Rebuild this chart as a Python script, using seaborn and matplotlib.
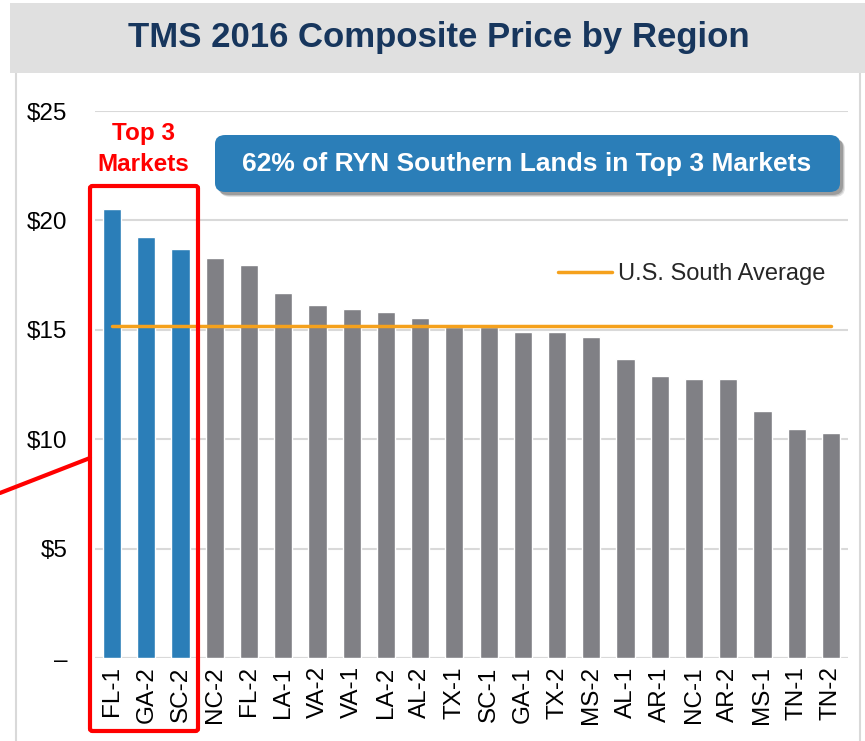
import matplotlib
matplotlib.use("Agg")
import matplotlib.pyplot as plt
from matplotlib.patches import Rectangle, FancyBboxPatch
from matplotlib.lines import Line2D
import seaborn as sns
import pandas as pd

# TMS 2016 composite stumpage price by region ($/ton)
regions = ["FL-1", "GA-2", "SC-2", "NC-2", "FL-2", "LA-1", "VA-2", "VA-1",
           "LA-2", "AL-2", "TX-1", "SC-1", "GA-1", "TX-2", "MS-2", "AL-1",
           "AR-1", "NC-1", "AR-2", "MS-1", "TN-1", "TN-2"]
prices = [20.52, 19.26, 18.69, 18.28, 17.98, 16.68, 16.13, 15.95, 15.81,
          15.54, 15.12, 15.12, 14.90, 14.90, 14.67, 13.67, 12.89, 12.75,
          12.75, 11.29, 10.47, 10.28]
top3 = ["FL-1", "GA-2", "SC-2"]
south_avg = 15.16
y_ticks = [0, 5, 10, 15, 20, 25]
y_tick_labels = ["\u2013", "$5", "$10", "$15", "$20", "$25"]

title = "TMS 2016 Composite Price by Region"
callout = "62% of RYN Southern Lands in Top 3 Markets"
top3_label = "Top 3\nMarkets"
avg_label = "U.S. South Average"

BLUE = "#2B7EB8"
GREY = "#808085"
ORANGE = "#F5A11C"
NAVY = "#17365D"
RED = "#FF0000"

sns.set_theme(style="white")
plt.rcParams["font.family"] = ["Liberation Sans", "DejaVu Sans"]

W, H = 865, 741
fig = plt.figure(figsize=(W / 100, H / 100), dpi=100)


def fx(x):
    return x / W


def fy(y):
    return 1 - y / H


# header band and framed panel
fig.patches.append(Rectangle((fx(10), fy(73)), fx(855), 70 / H,
                             transform=fig.transFigure, facecolor="#E0E0E0",
                             edgecolor="none", zorder=0))
for xx in (16, 860):
    fig.add_artist(Line2D([fx(xx), fx(xx)], [fy(73), 0], transform=fig.transFigure,
                          color="#D9D9D9", lw=1.5, zorder=0))
fig.text(fx(439), fy(38), title, ha="center", va="center", fontsize=25,
         fontweight="bold", color=NAVY)

ax = fig.add_axes([fx(95), fy(658), (848 - 95) / W, (658 - 111) / H])

df = pd.DataFrame({"region": regions, "price": prices})
palette = {r: (BLUE if r in top3 else GREY) for r in regions}
sns.barplot(data=df, x="region", y="price", hue="region", palette=palette,
            order=regions, width=0.53, saturation=1, legend=False, ax=ax, zorder=3)

avg_line, = ax.plot([0, len(regions) - 1], [south_avg, south_avg], color=ORANGE,
                    lw=2.5, zorder=4, label=avg_label)

ax.set_xlim(-0.5, len(regions) - 0.5)
ax.set_ylim(0, 25)
ax.set_yticks(y_ticks)
ax.set_yticklabels(y_tick_labels)
ax.yaxis.grid(True, color="#D9D9D9", lw=1.5, zorder=0)
ax.set_axisbelow(True)
for side in ("top", "right", "left", "bottom"):
    ax.spines[side].set_visible(False)
ax.axhline(0, color="#D9D9D9", lw=1.5, zorder=2)
ax.set_xlabel("")
ax.set_ylabel("")
ax.tick_params(axis="y", length=0, pad=20, labelsize=17.5, labelcolor="black")
ax.tick_params(axis="x", length=0, pad=6, labelsize=17.5, labelcolor="black",
               labelrotation=90)

ax.legend(handles=[avg_line], loc="center left",
          bbox_to_anchor=(fx(558), fy(274)), bbox_transform=fig.transFigure,
          frameon=False, fontsize=17, handlelength=2.3, handletextpad=0.25,
          borderpad=0, borderaxespad=0)

# highlight of the three leading markets
fig.patches.append(FancyBboxPatch((fx(90), fy(731)), (198 - 90) / W, (731 - 186) / H,
                                  boxstyle="round,pad=0,rounding_size=0.003",
                                  transform=fig.transFigure, facecolor="none",
                                  edgecolor=RED, lw=3, zorder=10))
fig.add_artist(Line2D([0, fx(90)], [fy(493), fy(458)], transform=fig.transFigure,
                      color=RED, lw=3, zorder=10))
fig.text(fx(143), fy(149), top3_label, ha="center", va="center", fontsize=17.5,
         fontweight="bold", color=RED, linespacing=1.4)

# callout box with soft shadow
for i, a in enumerate((0.10, 0.14, 0.20)):
    off = 5 - i
    fig.patches.append(FancyBboxPatch((fx(215 + off), fy(192 + off)), (840 - 215) / W,
                                      (192 - 135) / H,
                                      boxstyle="round,pad=0,rounding_size=0.012",
                                      transform=fig.transFigure, facecolor="black",
                                      edgecolor="none", alpha=a, zorder=8))
fig.patches.append(FancyBboxPatch((fx(215), fy(192)), (840 - 215) / W, (192 - 135) / H,
                                  boxstyle="round,pad=0,rounding_size=0.012",
                                  transform=fig.transFigure, facecolor=BLUE,
                                  edgecolor="none", zorder=9))
fig.text(fx(527), fy(164), callout, ha="center", va="center", fontsize=19,
         fontweight="bold", color="white", zorder=11)

fig.savefig("out.png", dpi=100)
